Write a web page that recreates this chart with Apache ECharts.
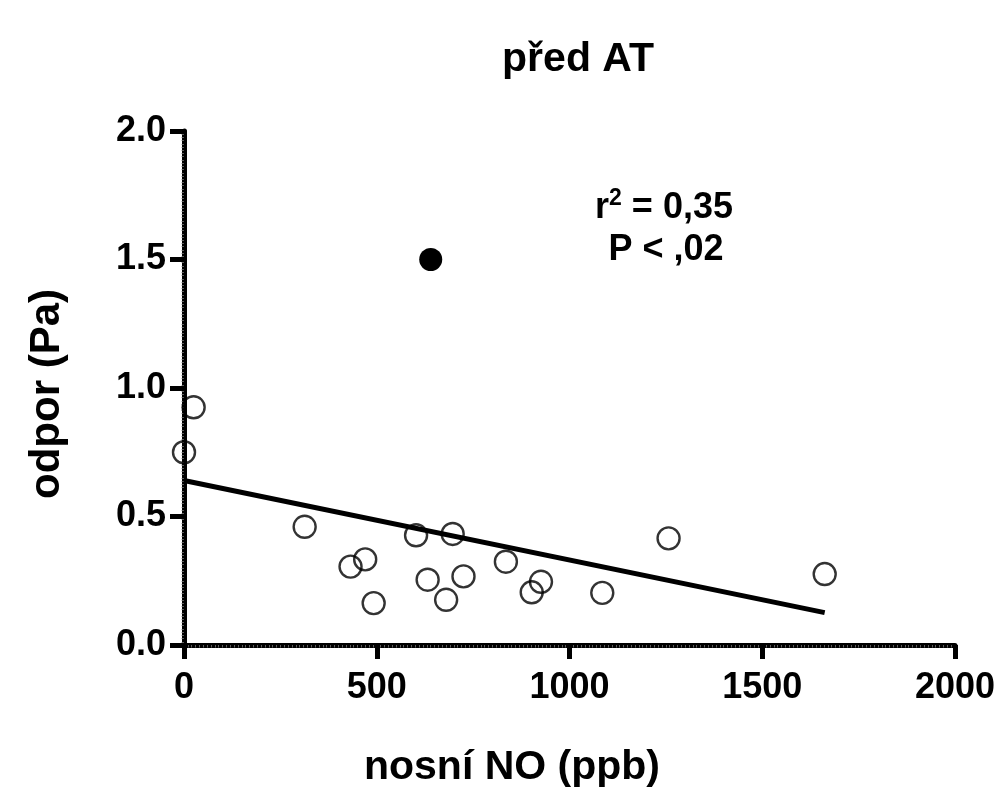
<!DOCTYPE html>
<html>
<head>
<meta charset="utf-8">
<script src="https://cdn.jsdelivr.net/npm/echarts@6/dist/echarts.min.js"></script>
<style>
html,body{margin:0;padding:0;background:#fff;}
#chart{width:1000px;height:790px;}
</style>
</head>
<body>
<div id="chart"></div>
<script>
const titleText = 'před AT';
const xName = 'nosní NO (ppb)';
const yName = 'odpor (Pa)';
const xTicks = [0, 500, 1000, 1500, 2000];
const yTicks = [0, 0.5, 1.0, 1.5, 2.0];
const openX = [0, 25, 313, 432, 470, 492, 602, 632, 680, 697, 725, 835, 902, 926, 1085, 1257, 1662];
const openY = [0.75, 0.925, 0.46, 0.305, 0.333, 0.163, 0.427, 0.254, 0.176, 0.432, 0.267, 0.324, 0.205, 0.246, 0.203, 0.415, 0.276];
const outlierX = [640];
const outlierY = [1.5];
const fitX = [0, 1662];
const fitY = [0.64, 0.126];
const statLine1 = ['r', '2', ' = 0,35'];
const statLine2 = 'P < ,02';

const font = 'Liberation Sans, Arial, sans-serif';
const chart = echarts.init(document.getElementById('chart'), null, {renderer: 'canvas'});
chart.setOption({
  backgroundColor: '#fff',
  animation: false,
  title: {
    text: titleText, left: 573, top: 34, textAlign: 'center',
    textStyle: {fontFamily: font, fontWeight: 'bold', fontSize: 41, color: '#000'}
  },
  grid: {left: 184, right: 45, top: 131, bottom: 145, containLabel: false},
  xAxis: {
    type: 'value', min: xTicks[0], max: xTicks[xTicks.length - 1], interval: 500,
    axisLine: {show: true, onZero: false, lineStyle: {color: '#000', width: 5}},
    axisTick: {show: true, length: 14, lineStyle: {color: '#000', width: 5}},
    minorTick: {show: true, splitNumber: 50, length: 2.5, lineStyle: {color: '#777', width: 0.8}},
    splitLine: {show: false},
    axisLabel: {margin: 25, color: '#000', fontFamily: font, fontWeight: 'bold', fontSize: 36,
      formatter: v => String(v)}
  },
  yAxis: {
    type: 'value', min: yTicks[0], max: yTicks[yTicks.length - 1], interval: 0.5,
    axisLine: {show: true, onZero: false, lineStyle: {color: '#000', width: 5}},
    axisTick: {show: true, length: 14, lineStyle: {color: '#000', width: 5}},
    minorTick: {show: true, splitNumber: 40, length: 2.5, lineStyle: {color: '#777', width: 0.8}},
    splitLine: {show: false},
    axisLabel: {margin: 18, color: '#000', fontFamily: font, fontWeight: 'bold', fontSize: 36,
      formatter: v => v.toFixed(1)}
  },
  graphic: [
    {type: 'text', x: 512, y: 768, style: {text: xName, fill: '#000', font: 'bold 41px ' + font, textAlign: 'center', textVerticalAlign: 'middle'}},
    {type: 'text', x: 47, y: 394, rotation: Math.PI / 2, style: {text: yName, fill: '#000', font: 'bold 42px ' + font, textAlign: 'center', textVerticalAlign: 'middle'}},
    {type: 'text', x: 664, y: 208, style: {
      text: '{a|' + statLine1[0] + '}{s|' + statLine1[1] + '}{a|' + statLine1[2] + '}',
      textAlign: 'center', textVerticalAlign: 'middle',
      rich: {
        a: {fontFamily: font, fontWeight: 'bold', fontSize: 36, fill: '#000', color: '#000'},
        s: {fontFamily: font, fontWeight: 'bold', fontSize: 23, fill: '#000', color: '#000', padding: [0, 0, 18, 0]}
      }
    }},
    {type: 'text', x: 666, y: 250, style: {text: statLine2, fill: '#000', font: 'bold 36px ' + font, textAlign: 'center', textVerticalAlign: 'middle'}}
  ],
  series: [
    {
      type: 'line', data: fitX.map((x, i) => [x, fitY[i]]), showSymbol: false, symbol: 'none',
      lineStyle: {color: '#000', width: 5}, z: 2
    },
    {
      type: 'scatter', data: openX.map((x, i) => [x, openY[i]]), symbol: 'circle', symbolSize: 22,
      itemStyle: {color: 'rgba(255,255,255,0)', borderColor: '#000', borderWidth: 2.4}, z: 3
    },
    {
      type: 'scatter', data: outlierX.map((x, i) => [x, outlierY[i]]), symbol: 'circle', symbolSize: 23,
      itemStyle: {color: '#000', opacity: 1}, z: 3
    }
  ]
});
</script>
</body>
</html>
